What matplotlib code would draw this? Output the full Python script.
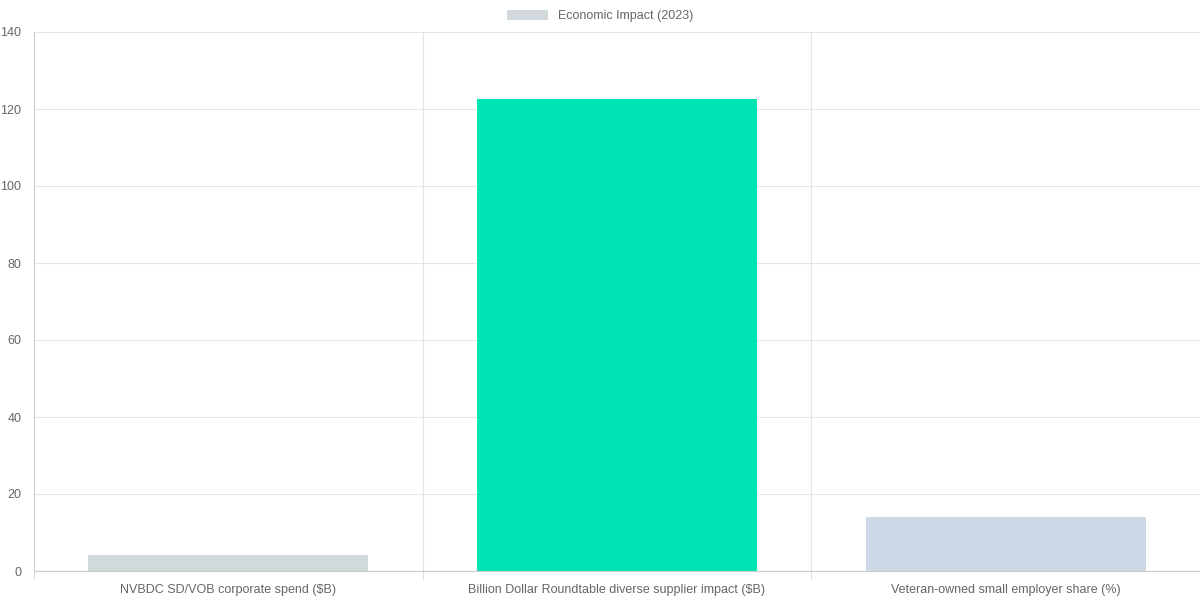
import numpy as np
import matplotlib.pyplot as plt
from matplotlib.patches import Patch

plt.rcParams['font.family'] = ['Liberation Sans', 'DejaVu Sans']

categories = ["NVBDC SD/VOB corporate spend ($B)",
              "Billion Dollar Roundtable diverse supplier impact ($B)",
              "Veteran-owned small employer share (%)"]
values = [4.2, 122.6, 13.9]
colors = ["#d2d9dd", "#00e4b4", "#cdd8e6"]

fig = plt.figure(figsize=(12, 6), dpi=100)
ax = fig.add_axes([34 / 1200, 29 / 600, 1166 / 1200, 539 / 600])

x = np.arange(len(categories))
ax.bar(x, values, width=0.72, color=colors, zorder=2)

ax.set_xlim(-0.5, len(categories) - 0.5)
ax.set_ylim(0, 140)
ax.set_yticks(range(0, 141, 20))
ax.set_xticks(x)
ax.set_xticklabels(categories, fontsize=9, color="#666666")
ax.tick_params(axis="x", length=0, pad=9)
ax.tick_params(axis="y", length=0, pad=9, labelsize=9, labelcolor="#666666")

ax.grid(axis="y", color="#e5e5e5", linewidth=0.8, zorder=0)
for b in np.arange(0.5, len(categories) - 0.5):
    ax.axvline(b, color="#e5e5e5", linewidth=0.8, zorder=0)
# small ticks below axis at category boundaries
for b in np.arange(-0.5, len(categories) + 0.5):
    ax.plot([b, b], [0, -2], color="#dddddd", linewidth=0.8, clip_on=False)

for side in ["top", "right"]:
    ax.spines[side].set_visible(False)
ax.spines["left"].set_color("#cccccc")
ax.spines["bottom"].set_color("#cccccc")

fig.legend(handles=[Patch(facecolor="#d2d9dd", label="Economic Impact (2023)")],
           loc="center", bbox_to_anchor=(0.5, 0.973), frameon=False, fontsize=9,
           handlelength=3.3, handleheight=0.9, labelcolor="#666666")

fig.savefig("out.png", dpi=100)
